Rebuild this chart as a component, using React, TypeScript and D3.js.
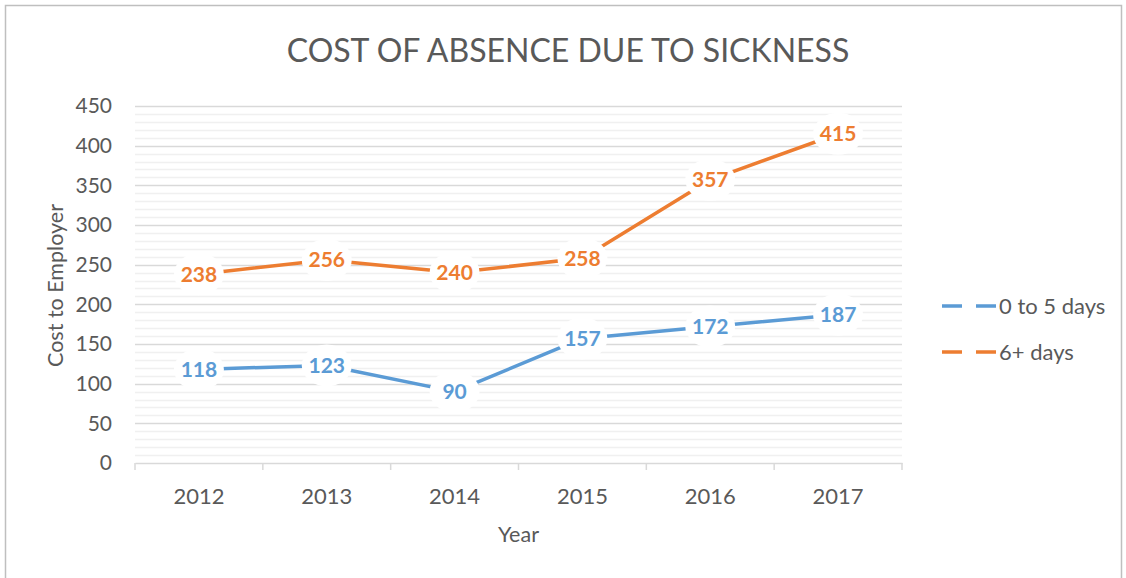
import React, { useEffect, useRef } from 'react';
import * as d3 from 'd3';

const years = ['2012', '2013', '2014', '2015', '2016', '2017'];
const shortAbsence = [118, 123, 90, 157, 172, 187];
const longAbsence = [238, 256, 240, 258, 357, 415];
const seriesNames = ['0 to 5 days', '6+ days'];
const seriesColors = ['#5b9bd5', '#ed7d31'];
const yTicks = [0, 50, 100, 150, 200, 250, 300, 350, 400, 450];

const FONT = 'Lato, "Open Sans", sans-serif';

const App: React.FC = () => {
  const svgRef = useRef<SVGSVGElement>(null);

  useEffect(() => {
    if (!svgRef.current) return;
    const svg = d3.select(svgRef.current).html('');

    const plot = { left: 135, right: 902, top: 106, bottom: 463 };

    // chart frame
    svg.append('rect')
      .attr('x', 5.5).attr('y', 5.5)
      .attr('width', 1116).attr('height', 590)
      .attr('fill', '#fff')
      .attr('stroke', '#bfbfbf').attr('stroke-width', 1.5);

    const x = d3.scaleBand().domain(years).range([plot.left, plot.right]);
    const y = d3.scaleLinear().domain([0, 450]).range([plot.bottom, plot.top]);

    // minor gridlines
    const minor = d3.range(10, 450, 10).filter(v => v % 50 !== 0);
    svg.append('g').selectAll('line').data(minor).join('line')
      .attr('x1', plot.left).attr('x2', plot.right)
      .attr('y1', d => Math.round(y(d)) + 0.5).attr('y2', d => Math.round(y(d)) + 0.5)
      .attr('stroke', '#f0f0f0').attr('stroke-width', 1.5);

    // major gridlines
    svg.append('g').selectAll('line').data(yTicks.filter(v => v > 0)).join('line')
      .attr('x1', plot.left).attr('x2', plot.right)
      .attr('y1', d => Math.round(y(d)) + 0.5).attr('y2', d => Math.round(y(d)) + 0.5)
      .attr('stroke', '#d9d9d9').attr('stroke-width', 1.5);

    // x axis
    const xAxis = svg.append('g')
      .attr('transform', `translate(0,${plot.bottom})`)
      .call(d3.axisBottom(x).tickSize(0).tickPadding(25));
    xAxis.select('.domain').attr('stroke', '#d9d9d9').attr('stroke-width', 1.5);
    xAxis.selectAll('text')
      .style('font-family', FONT).style('font-size', '22px').attr('fill', '#595959');
    const bounds = years.map(yr => x(yr)!).concat([plot.right]);
    xAxis.selectAll('line.bound').data(bounds).join('line')
      .attr('class', 'bound')
      .attr('x1', d => d).attr('x2', d => d)
      .attr('y1', 0).attr('y2', 7)
      .attr('stroke', '#d9d9d9').attr('stroke-width', 1.5);

    // y axis labels
    const yAxis = svg.append('g')
      .attr('transform', `translate(${plot.left},0)`)
      .call(d3.axisLeft(y).tickValues(yTicks).tickSize(0).tickPadding(23));
    yAxis.select('.domain').remove();
    yAxis.selectAll('text')
      .style('font-family', FONT).style('font-size', '21px').attr('fill', '#595959');

    // title
    svg.append('text')
      .attr('x', 568).attr('y', 62)
      .attr('text-anchor', 'middle')
      .style('font-family', FONT).style('font-size', '32px')
      .attr('fill', '#595959')
      .text('COST OF ABSENCE DUE TO SICKNESS');

    // axis titles
    svg.append('text')
      .attr('transform', `translate(63,${(plot.top + plot.bottom) / 2 + 1}) rotate(-90)`)
      .attr('text-anchor', 'middle')
      .style('font-family', FONT).style('font-size', '21.5px')
      .attr('fill', '#595959')
      .text('Cost to Employer');
    svg.append('text')
      .attr('x', (plot.left + plot.right) / 2).attr('y', 542)
      .attr('text-anchor', 'middle')
      .style('font-family', FONT).style('font-size', '21.5px')
      .attr('fill', '#595959')
      .text('Year');

    const series = [shortAbsence, longAbsence];
    const cx = (i: number) => x(years[i])! + x.bandwidth() / 2;
    const line = d3.line<number>().x((_, i) => cx(i)).y(d => y(d));

    series.forEach((vals, s) => {
      svg.append('path')
        .datum(vals)
        .attr('d', line)
        .attr('fill', 'none')
        .attr('stroke', seriesColors[s])
        .attr('stroke-width', 3.5)
        .attr('stroke-linejoin', 'round');
    });

    series.forEach((vals, s) => {
      const g = svg.append('g');
      vals.forEach((v, i) => {
        g.append('ellipse')
          .attr('cx', cx(i)).attr('cy', y(v))
          .attr('rx', 25).attr('ry', 21)
          .attr('fill', '#fff');
        g.append('text')
          .attr('x', cx(i)).attr('y', y(v))
          .attr('dy', '0.36em')
          .attr('text-anchor', 'middle')
          .style('font-family', FONT).style('font-size', '21px').style('font-weight', 'bold')
          .attr('fill', seriesColors[s])
          .text(v);
      });
    });

    // legend
    seriesNames.forEach((name, s) => {
      const ly = 306 + s * 46;
      const g = svg.append('g');
      g.append('line')
        .attr('x1', 942).attr('x2', 997)
        .attr('y1', ly).attr('y2', ly)
        .attr('stroke', seriesColors[s]).attr('stroke-width', 3.5)
        .attr('stroke-dasharray', '20,14');
      g.append('text')
        .attr('x', 999).attr('y', ly).attr('dy', '0.35em')
        .style('font-family', FONT).style('font-size', '22px')
        .attr('fill', '#595959')
        .text(name);
    });
  }, []);

  return (
    <svg ref={svgRef} width={1126} height={578}
      style={{ position: 'absolute', left: 0, top: 0, display: 'block' }} />
  );
};

export default App;
